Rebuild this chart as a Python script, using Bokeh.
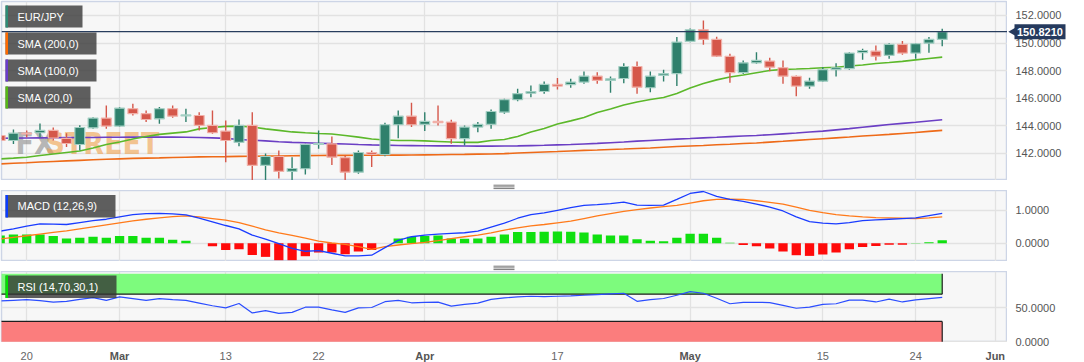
import math
import pandas as pd
from bokeh.plotting import figure
from bokeh.layouts import column, row
from bokeh.models import (Range1d, FixedTicker, Span, BoxAnnotation, Label, ColumnDataSource)
from bokeh.core.properties import value
from bokeh.embed import file_html
from bokeh.resources import INLINE

# ---------------- data ----------------
pair = "EUR/JPY"
start_day = "2023-02-16"
tick_dates = ["2023-02-20", "2023-03-01", "2023-03-13", "2023-03-22", "2023-04-03",
              "2023-04-17", "2023-05-01", "2023-05-15", "2023-05-24", "2023-06-01"]
tick_labels = ["20", "Mar", "13", "22", "Apr", "17", "May", "15", "24", "Jun"]
month_names = ["Mar", "Apr", "May", "Jun"]

open_ = [143.30, 142.94, 143.47, 143.50, 143.67, 143.09, 142.65, 143.86, 144.56, 143.98,
         145.24, 144.88, 144.51, 145.24, 144.72, 144.75, 144.03, 143.62, 142.80, 144.03,
         141.13, 141.78, 140.70, 140.89, 142.65, 142.70, 141.69, 140.64, 142.07, 141.91,
         144.08, 144.70, 144.10, 144.32, 144.27, 143.07, 143.91, 144.10, 144.99, 145.89,
         146.37, 146.49, 147.00, 146.98, 147.17, 147.60, 147.29, 147.43, 148.30, 146.76,
         147.65, 147.78, 150.12, 150.96, 150.26, 149.03, 147.85, 148.57, 148.69, 148.21,
         147.58, 146.88, 147.24, 148.07, 148.14, 149.30, 149.41, 149.10, 149.90, 149.27,
         149.99, 150.26]
high = [143.52, 143.74, 143.67, 144.17, 143.88, 143.47, 144.05, 144.63, 145.48, 145.36,
        145.60, 145.12, 145.36, 145.48, 145.24, 144.99, 145.12, 144.39, 144.46, 144.99,
        142.00, 142.22, 141.73, 142.70, 143.67, 143.23, 141.86, 142.22, 142.22, 144.23,
        145.12, 145.67, 144.99, 145.48, 144.44, 144.03, 144.27, 145.19, 145.96, 146.69,
        146.93, 147.22, 147.46, 147.41, 147.94, 147.89, 147.58, 148.54, 148.67, 147.94,
        148.07, 150.43, 151.06, 151.64, 150.46, 149.23, 148.74, 149.34, 148.94, 148.74,
        147.65, 147.49, 148.25, 148.54, 149.34, 149.59, 149.83, 149.99, 150.14, 149.99,
        150.43, 151.04]
low = [142.72, 142.69, 143.18, 143.16, 142.94, 142.47, 142.22, 143.79, 143.79, 143.91,
       144.75, 144.27, 144.15, 144.59, 144.27, 143.67, 143.43, 141.37, 142.53, 139.97,
       139.97, 140.19, 139.96, 140.48, 142.34, 141.17, 139.92, 140.53, 141.01, 141.80,
       143.11, 143.91, 143.62, 144.03, 142.70, 142.58, 143.54, 143.79, 144.88, 145.79,
       146.08, 146.33, 146.64, 146.76, 147.05, 147.05, 146.40, 147.09, 146.33, 146.44,
       147.22, 146.88, 150.05, 149.88, 148.98, 147.12, 147.75, 148.50, 147.96, 147.05,
       146.15, 146.69, 147.17, 147.58, 148.07, 148.79, 148.74, 148.86, 149.15, 148.86,
       149.30, 149.77]
close = [142.94, 143.47, 143.41, 143.67, 143.12, 142.72, 143.88, 144.56, 143.98, 145.28,
         144.88, 144.46, 145.24, 144.70, 144.79, 144.03, 143.50, 142.94, 144.03, 141.13,
         141.78, 140.70, 140.91, 142.65, 142.72, 141.73, 140.64, 142.07, 141.93, 144.08,
         144.70, 144.08, 144.32, 144.23, 143.07, 143.91, 144.10, 145.04, 145.89, 146.33,
         146.49, 147.00, 146.88, 147.17, 147.60, 147.29, 147.41, 148.30, 146.80, 147.60,
         147.78, 150.07, 150.96, 150.26, 149.05, 147.85, 148.57, 148.74, 148.25, 147.60,
         146.88, 147.24, 148.07, 148.21, 149.27, 149.46, 149.05, 149.90, 149.27, 149.95,
         150.26, 150.82]
sma20 = [141.60, 141.66, 141.73, 141.85, 141.96, 142.07, 142.18, 142.40, 142.65, 142.83,
         143.05, 143.23, 143.38, 143.47, 143.56, 143.78, 143.88, 143.96, 143.98, 143.92,
         143.78, 143.67, 143.56, 143.50, 143.45, 143.41, 143.30, 143.18, 143.05, 142.98,
         142.94, 142.94, 142.91, 142.87, 142.83, 142.80, 142.80, 142.94, 143.01, 143.23,
         143.56, 143.81, 144.14, 144.36, 144.61, 144.97, 145.22, 145.51, 145.73, 145.91,
         146.06, 146.35, 146.75, 147.07, 147.33, 147.54, 147.69, 147.85, 148.01, 148.09,
         148.12, 148.16, 148.21, 148.25, 148.34, 148.41, 148.52, 148.59, 148.67, 148.78,
         148.88, 148.98]
sma100 = [143.10, 143.11, 143.12, 143.13, 143.14, 143.15, 143.16, 143.16, 143.17, 143.17,
          143.18, 143.18, 143.18, 143.18, 143.17, 143.16, 143.13, 143.09, 143.01, 142.96,
          142.91, 142.85, 142.80, 142.77, 142.74, 142.71, 142.69, 142.65, 142.62, 142.60,
          142.58, 142.57, 142.56, 142.55, 142.55, 142.54, 142.53, 142.53, 142.54, 142.55,
          142.57, 142.59, 142.62, 142.65, 142.69, 142.73, 142.78, 142.83, 142.89, 142.94,
          142.99, 143.04, 143.08, 143.13, 143.17, 143.22, 143.26, 143.30, 143.36, 143.42,
          143.48, 143.55, 143.62, 143.71, 143.80, 143.90, 144.00, 144.10, 144.18, 144.26,
          144.35, 144.44]
sma200 = [141.24, 141.29, 141.33, 141.38, 141.42, 141.46, 141.50, 141.54, 141.58, 141.61,
          141.64, 141.66, 141.68, 141.71, 141.73, 141.75, 141.76, 141.77, 141.79, 141.80,
          141.81, 141.82, 141.83, 141.84, 141.85, 141.86, 141.86, 141.87, 141.87, 141.88,
          141.88, 141.89, 141.90, 141.91, 141.92, 141.93, 141.95, 141.96, 141.99, 142.03,
          142.07, 142.11, 142.14, 142.18, 142.22, 142.25, 142.29, 142.32, 142.36, 142.40,
          142.45, 142.50, 142.54, 142.58, 142.63, 142.67, 142.72, 142.76, 142.82, 142.88,
          142.95, 143.01, 143.07, 143.13, 143.19, 143.26, 143.32, 143.38, 143.45, 143.52,
          143.60, 143.67]
macd = [0.37, 0.44, 0.52, 0.59, 0.58, 0.57, 0.63, 0.69, 0.73, 0.80,
        0.87, 0.90, 0.91, 0.89, 0.86, 0.76, 0.65, 0.54, 0.44, 0.25,
        0.13, -0.01, -0.15, -0.24, -0.22, -0.30, -0.38, -0.38, -0.36, -0.13,
        0.09, 0.20, 0.25, 0.28, 0.30, 0.32, 0.37, 0.49, 0.61, 0.76,
        0.87, 0.92, 1.00, 1.08, 1.15, 1.17, 1.20, 1.25, 1.16, 1.15,
        1.16, 1.33, 1.51, 1.57, 1.42, 1.33, 1.27, 1.19, 1.10, 0.98,
        0.80, 0.66, 0.61, 0.59, 0.63, 0.69, 0.71, 0.73, 0.75, 0.77,
        0.84, 0.91]
signal = [0.13, 0.18, 0.23, 0.28, 0.33, 0.38, 0.44, 0.50, 0.56, 0.62,
          0.68, 0.73, 0.77, 0.81, 0.83, 0.80, 0.75, 0.70, 0.63, 0.52,
          0.41, 0.32, 0.24, 0.16, 0.07, 0.01, -0.03, -0.10, -0.18, -0.10,
          -0.05, -0.01, 0.03, 0.08, 0.14, 0.20, 0.25, 0.32, 0.40, 0.47,
          0.53, 0.57, 0.62, 0.67, 0.75, 0.83, 0.90, 0.97, 1.02, 1.07,
          1.11, 1.15, 1.22, 1.29, 1.33, 1.34, 1.33, 1.29, 1.24, 1.19,
          1.10, 1.00, 0.93, 0.87, 0.83, 0.80, 0.78, 0.77, 0.76, 0.75,
          0.77, 0.80]
hist = [0.24, 0.27, 0.27, 0.27, 0.22, 0.15, 0.17, 0.20, 0.17, 0.22,
        0.22, 0.17, 0.17, 0.11, 0.08, 0.00, -0.09, -0.20, -0.18, -0.35,
        -0.41, -0.51, -0.51, -0.39, -0.28, -0.28, -0.33, -0.25, -0.20, 0.00,
        0.15, 0.20, 0.22, 0.24, 0.15, 0.14, 0.15, 0.20, 0.27, 0.34,
        0.34, 0.35, 0.36, 0.35, 0.33, 0.27, 0.24, 0.24, 0.12, 0.08,
        0.06, 0.17, 0.29, 0.29, 0.17, 0.02, -0.05, -0.09, -0.16, -0.25,
        -0.36, -0.38, -0.34, -0.28, -0.18, -0.11, -0.08, -0.04, -0.04, 0.01,
        0.03, 0.09]
rsi = [60, 61, 62, 60.5, 58.5, 59.5, 62.5, 65, 61, 66,
       63.5, 61, 63.5, 62, 61, 57, 53, 50, 56.4, 42.5,
       45.8, 41.7, 43.3, 50.9, 50.9, 47, 43.3, 50, 50.5, 59,
       61, 57.4, 58, 58.4, 52.4, 55, 57, 62.5, 64.5, 66,
       67, 66.5, 67, 67.6, 68.5, 69.5, 70.5, 71.4, 59.6, 62,
       63.7, 68.5, 73.9, 71.4, 64, 56, 58, 58.2, 57.6, 53.5,
       49.4, 51, 55, 56, 61.2, 61.2, 58.6, 62.7, 58.6, 61.7,
       63.5, 65.3]
last_price = 150.821
price_ticks = [142, 144, 146, 148, 150, 152]
macd_ticks = [0, 1]
rsi_ticks = [0, 50]
rsi_upper, rsi_lower = 70, 30

# ---------------- derived ----------------
n = len(close)
days = pd.bdate_range(start_day, periods=n + 4)
idx = list(range(n))
tick_pos = [int(days.get_loc(pd.Timestamp(d))) for d in tick_dates]

FONT = "Liberation Sans"
FW = 1006          # plot frame width
AW = 77            # right label column width
xr = Range1d(0.1, 75.92)

UP, DN = "#2f806c", "#d5574a"
UP_EDGE, DN_EDGE = "#a3cfc3", "#f1b1a9"
NAVY = "#253a5e"


def panel(h, yr, yticks, top_border=0):
    p = figure(frame_width=FW, frame_height=h, x_range=xr, y_range=yr,
               output_backend="svg", toolbar_location=None,
               x_axis_location=None, y_axis_location=None,
               min_border=0, min_border_left=1, min_border_top=top_border,
               background_fill_color="#f7f7f7", border_fill_color="white",
               outline_line_color="#cdd5e6", outline_line_width=1.5)
    p.xgrid.ticker = FixedTicker(ticks=tick_pos)
    p.ygrid.ticker = FixedTicker(ticks=yticks)
    p.grid.grid_line_color = "#e2e2e2"
    p.grid.grid_line_width = 1.3
    return p


def label_column(h, yr, yticks, top_border=0, bottom_border=0):
    a = figure(frame_width=AW, frame_height=h, x_range=Range1d(0, AW), y_range=yr,
               output_backend="svg", toolbar_location=None,
               x_axis_location=None, y_axis_location=None,
               min_border=0, min_border_top=top_border, min_border_bottom=bottom_border,
               background_fill_color="white", border_fill_color="white",
               outline_line_color=None)
    a.grid.visible = False
    a.text(x=[8] * len(yticks), y=yticks, text=[f"{v:.4f}" for v in yticks],
           text_font=value(FONT), text_font_size="11px", text_color="#555555",
           text_baseline="middle", text_align="left")
    return a


def gap():
    g = figure(frame_width=FW, frame_height=10, x_range=Range1d(0, FW), y_range=Range1d(0, 10),
               output_backend="svg", toolbar_location=None,
               x_axis_location=None, y_axis_location=None,
               min_border=0, min_border_left=1,
               background_fill_color="white", border_fill_color="white",
               outline_line_color=None)
    g.grid.visible = False
    g.segment(x0=[492] * 3, x1=[513] * 3, y0=[7.3, 5.6, 3.9], y1=[7.3, 5.6, 3.9],
              line_color="#777777", line_width=1)
    return g


def tag(p, h, top, bottom, right, stripe, text):
    # indicator tag, in screen units measured from the frame's bottom-left
    kw = dict(left_units="screen", right_units="screen", top_units="screen",
              bottom_units="screen", line_color=None)
    p.add_layout(BoxAnnotation(left=4, right=right, top=h - top, bottom=h - bottom,
                               fill_color="#333333", fill_alpha=0.78, **kw))
    p.add_layout(BoxAnnotation(left=4, right=6.5, top=h - top, bottom=h - bottom,
                               fill_color=stripe, fill_alpha=1, **kw))
    p.add_layout(Label(x=16, y=h - (top + bottom) / 2, x_units="screen", y_units="screen",
                       text=text, text_color="white", text_font=FONT,
                       text_font_size="11px", text_baseline="middle"))


# ---------------- main price panel ----------------
MH = 179
main_y = Range1d(140.04, 153.01)
pm = panel(MH, main_y, price_ticks, top_border=1)

WM_FONT = "'Liberation Sans Narrow', 'DejaVu Sans Condensed', sans-serif"
pm.add_layout(Label(x=14, y=20, x_units="screen", y_units="screen", text="FX",
                    text_font=WM_FONT, text_font_size="30px", text_font_style="bold",
                    text_color="#8a8a8a", text_alpha=0.6, level="underlay"))
pm.add_layout(Label(x=44, y=20, x_units="screen", y_units="screen", text="STREET",
                    text_font=WM_FONT, text_font_size="30px", text_font_style="bold",
                    text_color="#f0a04b", text_alpha=0.6, level="underlay"))

pm.line(idx, sma200, line_color="#ee6a18", line_width=1.6)
pm.line(idx, sma100, line_color="#6b3fc4", line_width=1.6)
pm.line(idx, sma20, line_color="#5cb82a", line_width=1.6)

up = [c >= o for o, c in zip(open_, close)]
src = ColumnDataSource(dict(
    x=idx, high=high, low=low,
    top=[max(o, c) for o, c in zip(open_, close)],
    bottom=[min(o, c) for o, c in zip(open_, close)],
    fill=[UP if u else DN for u in up],
    edge=[UP_EDGE if u else DN_EDGE for u in up],
))
pm.segment(x0="x", y0="low", x1="x", y1="high", line_color="fill", line_width=1.4, source=src)
pm.vbar(x="x", width=0.74, top="top", bottom="bottom", fill_color="fill",
        line_color="edge", line_width=1.2, source=src)
pm.add_layout(Span(location=last_price, dimension="width", line_color="#283d5e", line_width=1.3))

tag(pm, MH, 4, 26, 81, "#2e8b76", pair)
tag(pm, MH, 31, 53, 95, "#ff6a00", "SMA (200,0)")
tag(pm, MH, 58, 80, 95, "#6a3ccc", "SMA (100,0)")
tag(pm, MH, 85, 107, 89, "#56b817", "SMA (20,0)")

ax_main = label_column(MH, main_y, price_ticks, top_border=1, bottom_border=10)
ax_main.rect(x=[32.5], y=[last_price], width=51, height=15, height_units="screen",
             fill_color=NAVY, line_color=None)
ax_main.scatter(x=[6], y=[last_price], marker="triangle", size=9, angle=math.pi / 2,
                fill_color=NAVY, line_color=None)
ax_main.text(x=[9.5], y=[last_price], text=[f"{last_price:.4f}"], text_font=value(FONT),
             text_font_size="11px", text_font_style="bold", text_color="white",
             text_baseline="middle", text_align="left")

# ---------------- MACD panel ----------------
SH = 71
macd_y = Range1d(-0.55, 1.60)
pmacd = panel(SH, macd_y, macd_ticks)
pmacd.vbar(x=idx, top=hist, bottom=0, width=0.7,
           fill_color=["#10e010" if v >= 0 else "#ff0a0a" for v in hist], line_color=None)
pmacd.line(idx, signal, line_color="#ff7a1a", line_width=1.3)
pmacd.line(idx, macd, line_color="#1a3cff", line_width=1.3)
tag(pmacd, SH, 4.5, 27, 114, "#0a3cff", "MACD (12,26,9)")
ax_macd = label_column(SH, macd_y, macd_ticks, bottom_border=10)

# ---------------- RSI panel ----------------
rsi_y = Range1d(-1, 103.4)
prsi = panel(SH, rsi_y, rsi_ticks)
band_x = [xr.start - 1, idx[-1]]
prsi.varea(x=band_x, y1=[rsi_upper] * 2, y2=[100] * 2, fill_color="#7dfb7d")
prsi.varea(x=band_x, y1=[0] * 2, y2=[rsi_lower] * 2, fill_color="#fb7d7d")
prsi.line(band_x, [rsi_upper] * 2, line_color="#1e1e1e", line_width=1.2)
prsi.line(band_x, [rsi_lower] * 2, line_color="#1e1e1e", line_width=1.2)
prsi.line([idx[-1]] * 2, [rsi_upper, 100], line_color="#1e1e1e", line_width=1.2)
prsi.line([idx[-1]] * 2, [0, rsi_lower], line_color="#1e1e1e", line_width=1.2)
prsi.line(idx, rsi, line_color="#2b4dff", line_width=1.2)
tag(prsi, SH, 4, 26.5, 115, "#00e000", "RSI (14,70,30,1)")

# label column for RSI runs 20 px further down (same scale) so "0.0000" is not cut
XH = 20
px_per_unit = SH / (rsi_y.end - rsi_y.start)
ax_rsi = label_column(SH + XH, Range1d(rsi_y.start - XH / px_per_unit, rsi_y.end), rsi_ticks)

# ---------------- date labels ----------------
xlab = figure(frame_width=FW, frame_height=XH, x_range=xr, y_range=Range1d(0, XH),
              output_backend="svg", toolbar_location=None,
              x_axis_location=None, y_axis_location=None,
              min_border=0, min_border_left=1,
              background_fill_color="white", border_fill_color="white", outline_line_color=None)
xlab.grid.visible = False
xlab.text(x=tick_pos, y=[7] * len(tick_pos), text=tick_labels,
          text_font=value(FONT), text_font_size="11px",
          text_font_style=["bold" if t in month_names else "normal" for t in tick_labels],
          text_color=["#555555" if t in month_names else "#666666" for t in tick_labels],
          text_align="center", text_baseline="middle")

left = column(pm, gap(), pmacd, gap(), prsi, xlab, spacing=0)
right = column(ax_main, ax_macd, ax_rsi, spacing=0)
layout = row(left, right, spacing=0)
open("out.html", "w").write(file_html(layout, INLINE))
